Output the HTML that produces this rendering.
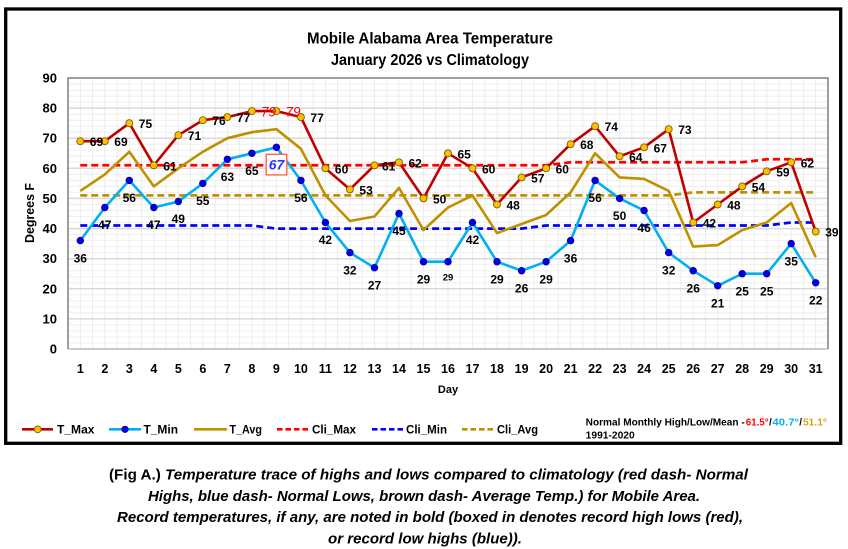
<!DOCTYPE html>
<html><head><meta charset="utf-8"><style>
html,body{margin:0;padding:0;background:#fff;}
svg{display:block;}
text{font-family:"Liberation Sans",Arial,sans-serif;}
</style></head><body>
<svg width="848" height="549" viewBox="0 0 848 549" xmlns="http://www.w3.org/2000/svg">
<rect x="0" y="0" width="848" height="549" fill="#fff"/>
<!-- frame -->
<rect x="5.7" y="9" width="835" height="434.3" fill="#fff" stroke="#000" stroke-width="3.3"/>

<!-- title -->
<text x="307" y="43.5" font-size="16" font-weight="bold" textLength="246" lengthAdjust="spacingAndGlyphs">Mobile Alabama Area Temperature</text>
<text x="331" y="65" font-size="16" font-weight="bold" textLength="198" lengthAdjust="spacingAndGlyphs">January 2026 vs Climatology</text>

<!-- minor horizontal grid -->
<g stroke="#efefef" stroke-width="1">
<path d="M68 84H828M68 90.1H828M68 96.1H828M68 102.1H828M68 114.1H828M68 120.2H828M68 126.2H828M68 132.2H828M68 144.3H828M68 150.3H828M68 156.3H828M68 162.3H828M68 174.4H828M68 180.4H828M68 186.4H828M68 192.4H828M68 204.5H828M68 210.5H828M68 216.5H828M68 222.5H828M68 234.6H828M68 240.6H828M68 246.6H828M68 252.6H828M68 264.7H828M68 270.7H828M68 276.7H828M68 282.7H828M68 294.8H828M68 300.8H828M68 306.8H828M68 312.8H828M68 324.9H828M68 330.9H828M68 336.9H828M68 342.9H828"/>
</g>
<!-- vertical grid (half category) -->
<g stroke="#ececec" stroke-width="1">
<path d="M80.3 78V349M92.5 78V349M104.8 78V349M117 78V349M129.3 78V349M141.5 78V349M153.8 78V349M166 78V349M178.3 78V349M190.5 78V349M202.8 78V349M215.1 78V349M227.4 78V349M239.6 78V349M251.9 78V349M264.1 78V349M276.4 78V349M288.6 78V349M300.9 78V349M313.1 78V349M325.4 78V349M337.6 78V349M349.9 78V349M362.2 78V349M374.5 78V349M386.7 78V349M399 78V349M411.2 78V349M423.5 78V349M435.7 78V349M448 78V349M460.2 78V349M472.5 78V349M484.7 78V349M497 78V349M509.3 78V349M521.6 78V349M533.8 78V349M546.1 78V349M558.3 78V349M570.6 78V349M582.8 78V349M595.1 78V349M607.3 78V349M619.6 78V349M631.8 78V349M644.1 78V349M656.4 78V349M668.7 78V349M680.9 78V349M693.2 78V349M705.4 78V349M717.7 78V349M729.9 78V349M742.2 78V349M754.4 78V349M766.7 78V349M778.9 78V349M791.2 78V349M803.4 78V349M815.7 78V349"/>
</g>
<!-- major horizontal grid -->
<g stroke="#d9d9d9" stroke-width="1.5">
<path d="M68 108.1H828M68 138.2H828M68 168.3H828M68 198.4H828M68 228.6H828M68 258.7H828M68 288.8H828M68 318.9H828M68 349H828"/>
</g>
<!-- plot border -->
<path d="M68 349V78H828V349" fill="none" stroke="#7f7f7f" stroke-width="1.5"/>
<path d="M68 349H828" stroke="#bfbfbf" stroke-width="1.5"/>

<!-- y labels -->
<g font-size="13" font-weight="bold" text-anchor="end" fill="#000">
<text x="57" y="82.5">90</text><text x="57" y="112.6">80</text><text x="57" y="142.7">70</text><text x="57" y="172.8">60</text><text x="57" y="202.9">50</text><text x="57" y="233.1">40</text><text x="57" y="263.2">30</text><text x="57" y="293.3">20</text><text x="57" y="323.4">10</text><text x="57" y="353.5">0</text>
</g>
<!-- x labels -->
<g font-size="12.5" font-weight="bold" text-anchor="middle" fill="#000">
<text x="80.3" y="373">1</text><text x="104.8" y="373">2</text><text x="129.3" y="373">3</text><text x="153.8" y="373">4</text><text x="178.3" y="373">5</text><text x="202.8" y="373">6</text><text x="227.4" y="373">7</text><text x="251.9" y="373">8</text><text x="276.4" y="373">9</text><text x="300.9" y="373">10</text><text x="325.4" y="373">11</text><text x="349.9" y="373">12</text><text x="374.5" y="373">13</text><text x="399" y="373">14</text><text x="423.5" y="373">15</text><text x="448" y="373">16</text><text x="472.5" y="373">17</text><text x="497" y="373">18</text><text x="521.6" y="373">19</text><text x="546.1" y="373">20</text><text x="570.6" y="373">21</text><text x="595.1" y="373">22</text><text x="619.6" y="373">23</text><text x="644.1" y="373">24</text><text x="668.7" y="373">25</text><text x="693.2" y="373">26</text><text x="717.7" y="373">27</text><text x="742.2" y="373">28</text><text x="766.7" y="373">29</text><text x="791.2" y="373">30</text><text x="815.7" y="373">31</text>
</g>
<text x="448" y="393" font-size="11" font-weight="bold" text-anchor="middle">Day</text>
<text transform="translate(34,213) rotate(-90)" font-size="13" font-weight="bold" text-anchor="middle" textLength="60" lengthAdjust="spacingAndGlyphs">Degrees F</text>

<!-- climatology dashes -->
<g fill="none" stroke-width="2.75" stroke-dasharray="7 4">
<polyline stroke="#ff0000" points="80.3,165.3 546.1,165.3 570.6,162.3 742.2,162.3 766.7,159.3 815.7,159.3"/>
<polyline stroke="#0000ff" points="80.3,225.5 251.9,225.5 276.4,228.6 521.6,228.6 546.1,225.5 766.7,225.5 791.2,222.5 815.7,222.5"/>
<polyline stroke="#bf9000" points="80.3,195.4 668.7,195.4 693.2,192.4 815.7,192.4"/>
</g>

<!-- series lines -->
<g fill="none" stroke-width="2.6" stroke-linejoin="round">
<polyline stroke="#bf9000" points="80.3,190.9 104.8,174.4 129.3,151.8 153.8,186.4 178.3,168.3 202.8,151.8 227.4,138.2 251.9,132.2 276.4,129.2 300.9,148.8 325.4,195.4 349.9,221 374.5,216.5 399,187.9 423.5,230.1 448,207.5 472.5,195.4 497,233.1 521.6,224 546.1,215 570.6,192.4 595.1,153.3 619.6,177.4 644.1,178.9 668.7,190.9 693.2,246.6 717.7,245.1 742.2,230.1 766.7,222.5 791.2,203 815.7,257.2"/>
<polyline stroke="#00b0f0" points="80.3,240.6 104.8,207.5 129.3,180.4 153.8,207.5 178.3,201.5 202.8,183.4 227.4,159.3 251.9,153.3 276.4,147.3 300.9,180.4 325.4,222.5 349.9,252.6 374.5,267.7 399,213.5 423.5,261.7 448,261.7 472.5,222.5 497,261.7 521.6,270.7 546.1,261.7 570.6,240.6 595.1,180.4 619.6,198.4 644.1,210.5 668.7,252.6 693.2,270.7 717.7,285.8 742.2,273.7 766.7,273.7 791.2,243.6 815.7,282.8"/>
<polyline stroke="#c00000" points="80.3,141.2 104.8,141.2 129.3,123.2 153.8,165.3 178.3,135.2 202.8,120.2 227.4,117.1 251.9,111.1 276.4,111.1 300.9,117.1 325.4,168.3 349.9,189.4 374.5,165.3 399,162.3 423.5,198.4 448,153.3 472.5,168.3 497,204.5 521.6,177.4 546.1,168.3 570.6,144.2 595.1,126.2 619.6,156.3 644.1,147.3 668.7,129.2 693.2,222.5 717.7,204.5 742.2,186.4 766.7,171.3 791.2,162.3 815.7,231.6"/>
</g>

<!-- T_Min markers -->
<g fill="#0000e6" stroke="#00008b" stroke-width="0.6">
<circle cx="80.3" cy="240.6" r="3.4"/><circle cx="104.8" cy="207.5" r="3.4"/><circle cx="129.3" cy="180.4" r="3.4"/><circle cx="153.8" cy="207.5" r="3.4"/><circle cx="178.3" cy="201.5" r="3.4"/><circle cx="202.8" cy="183.4" r="3.4"/><circle cx="227.4" cy="159.3" r="3.4"/><circle cx="251.9" cy="153.3" r="3.4"/><circle cx="276.4" cy="147.3" r="3.4"/><circle cx="300.9" cy="180.4" r="3.4"/><circle cx="325.4" cy="222.5" r="3.4"/><circle cx="349.9" cy="252.6" r="3.4"/><circle cx="374.5" cy="267.7" r="3.4"/><circle cx="399" cy="213.5" r="3.4"/><circle cx="423.5" cy="261.7" r="3.4"/><circle cx="448" cy="261.7" r="3.4"/><circle cx="472.5" cy="222.5" r="3.4"/><circle cx="497" cy="261.7" r="3.4"/><circle cx="521.6" cy="270.7" r="3.4"/><circle cx="546.1" cy="261.7" r="3.4"/><circle cx="570.6" cy="240.6" r="3.4"/><circle cx="595.1" cy="180.4" r="3.4"/><circle cx="619.6" cy="198.4" r="3.4"/><circle cx="644.1" cy="210.5" r="3.4"/><circle cx="668.7" cy="252.6" r="3.4"/><circle cx="693.2" cy="270.7" r="3.4"/><circle cx="717.7" cy="285.8" r="3.4"/><circle cx="742.2" cy="273.7" r="3.4"/><circle cx="766.7" cy="273.7" r="3.4"/><circle cx="791.2" cy="243.6" r="3.4"/><circle cx="815.7" cy="282.8" r="3.4"/>
</g>
<!-- T_Max markers -->
<g fill="#ffc000" stroke="#7f6000" stroke-width="0.9">
<circle cx="80.3" cy="141.2" r="3.5"/><circle cx="104.8" cy="141.2" r="3.5"/><circle cx="129.3" cy="123.2" r="3.5"/><circle cx="153.8" cy="165.3" r="3.5"/><circle cx="178.3" cy="135.2" r="3.5"/><circle cx="202.8" cy="120.2" r="3.5"/><circle cx="227.4" cy="117.1" r="3.5"/><circle cx="251.9" cy="111.1" r="3.5"/><circle cx="276.4" cy="111.1" r="3.5"/><circle cx="300.9" cy="117.1" r="3.5"/><circle cx="325.4" cy="168.3" r="3.5"/><circle cx="349.9" cy="189.4" r="3.5"/><circle cx="374.5" cy="165.3" r="3.5"/><circle cx="399" cy="162.3" r="3.5"/><circle cx="423.5" cy="198.4" r="3.5"/><circle cx="448" cy="153.3" r="3.5"/><circle cx="472.5" cy="168.3" r="3.5"/><circle cx="497" cy="204.5" r="3.5"/><circle cx="521.6" cy="177.4" r="3.5"/><circle cx="546.1" cy="168.3" r="3.5"/><circle cx="570.6" cy="144.2" r="3.5"/><circle cx="595.1" cy="126.2" r="3.5"/><circle cx="619.6" cy="156.3" r="3.5"/><circle cx="644.1" cy="147.3" r="3.5"/><circle cx="668.7" cy="129.2" r="3.5"/><circle cx="693.2" cy="222.5" r="3.5"/><circle cx="717.7" cy="204.5" r="3.5"/><circle cx="742.2" cy="186.4" r="3.5"/><circle cx="766.7" cy="171.3" r="3.5"/><circle cx="791.2" cy="162.3" r="3.5"/><circle cx="815.7" cy="231.6" r="3.5"/>
</g>

<!-- T_Max labels -->
<g font-size="12" font-weight="bold" fill="#000">
<text x="89.8" y="146.2">69</text><text x="114.3" y="146.2">69</text><text x="138.8" y="128.2">75</text><text x="163.3" y="170.3">61</text><text x="187.8" y="140.2">71</text><text x="212.3" y="125.2">76</text><text x="236.9" y="122.1">77</text><text x="310.4" y="122.1">77</text><text x="334.9" y="173.3">60</text><text x="359.4" y="194.4">53</text><text x="382" y="170.3">61</text><text x="408.5" y="167.3">62</text><text x="433" y="203.4">50</text><text x="457.5" y="158.3">65</text><text x="482" y="173.3">60</text><text x="506.5" y="209.5">48</text><text x="531.1" y="182.4">57</text><text x="555.6" y="173.3">60</text><text x="580.1" y="149.2">68</text><text x="604.6" y="131.2">74</text><text x="629.1" y="161.3">64</text><text x="653.6" y="152.3">67</text><text x="678.2" y="134.2">73</text><text x="702.7" y="227.5">42</text><text x="727.2" y="209.5">48</text><text x="751.7" y="191.4">54</text><text x="776.2" y="176.3">59</text><text x="800.7" y="167.3">62</text><text x="825.2" y="236.6">39</text>
</g>
<g font-size="13.5" font-style="italic" fill="#ff0000">
<text x="261" y="116.3">79</text><text x="285.5" y="116.3">79</text>
</g>

<!-- T_Min labels -->
<g font-size="12" font-weight="bold" fill="#000" text-anchor="middle">
<text x="80.3" y="262.3">36</text><text x="104.8" y="229.2">47</text><text x="129.3" y="202.1">56</text><text x="153.8" y="229.2">47</text><text x="178.3" y="223.2">49</text><text x="202.8" y="205.1">55</text><text x="227.4" y="181">63</text><text x="251.9" y="175">65</text><text x="300.9" y="202.1">56</text><text x="325.4" y="244.2">42</text><text x="349.9" y="274.3">32</text><text x="374.5" y="289.4">27</text><text x="399" y="235.2">45</text><text x="423.5" y="283.4">29</text><text x="472.5" y="244.2">42</text><text x="497" y="283.4">29</text><text x="521.6" y="292.4">26</text><text x="546.1" y="283.4">29</text><text x="570.6" y="262.3">36</text><text x="595.1" y="202.1">56</text><text x="619.6" y="220.1">50</text><text x="644.1" y="232.2">46</text><text x="668.7" y="274.3">32</text><text x="693.2" y="292.4">26</text><text x="717.7" y="307.5">21</text><text x="742.2" y="295.4">25</text><text x="766.7" y="295.4">25</text><text x="791.2" y="265.3">35</text><text x="815.7" y="304.5">22</text>
<text x="448" y="280.6" font-size="9.5">29</text>
</g>
<!-- boxed record -->
<rect x="266.2" y="154.3" width="20.6" height="20.6" fill="#fff" stroke="#ff5a36" stroke-width="1.3"/>
<text x="276.5" y="169.6" font-size="14" font-weight="bold" font-style="italic" fill="#3333ff" text-anchor="middle">67</text>

<!-- legend -->
<g stroke-width="2.6">
<line x1="22" y1="429.3" x2="53" y2="429.3" stroke="#c00000"/>
<line x1="109" y1="429.3" x2="141" y2="429.3" stroke="#00b0f0"/>
<line x1="194" y1="429.3" x2="227" y2="429.3" stroke="#bf9000"/>
</g>
<g stroke-width="2.6" stroke-dasharray="5.5 3">
<line x1="277" y1="429.3" x2="310" y2="429.3" stroke="#ff0000"/>
<line x1="372" y1="429.3" x2="404" y2="429.3" stroke="#0000ff"/>
<line x1="462" y1="429.3" x2="495" y2="429.3" stroke="#bf9000"/>
</g>
<circle cx="37.7" cy="429.3" r="3.4" fill="#ffc000" stroke="#7f6000" stroke-width="0.9"/>
<circle cx="125" cy="429.3" r="3.3" fill="#0000e6" stroke="#00008b" stroke-width="0.6"/>
<g font-size="12" font-weight="bold" fill="#000">
<text x="57" y="433.6" textLength="37.5" lengthAdjust="spacingAndGlyphs">T_Max</text>
<text x="143.5" y="433.6" textLength="34.5" lengthAdjust="spacingAndGlyphs">T_Min</text>
<text x="229.5" y="433.6" textLength="32.5" lengthAdjust="spacingAndGlyphs">T_Avg</text>
<text x="312" y="433.6" textLength="44" lengthAdjust="spacingAndGlyphs">Cli_Max</text>
<text x="406" y="433.6" textLength="41" lengthAdjust="spacingAndGlyphs">Cli_Min</text>
<text x="497" y="433.6" textLength="41" lengthAdjust="spacingAndGlyphs">Cli_Avg</text>
</g>
<g font-size="10" font-weight="bold">
<text x="585.7" y="425.3" textLength="159" lengthAdjust="spacingAndGlyphs">Normal Monthly High/Low/Mean - </text>
<text x="745.7" y="425.3" fill="#ff0000" textLength="23" lengthAdjust="spacingAndGlyphs">61.5°</text>
<text x="769" y="425.3">/</text>
<text x="772.5" y="425.3" fill="#00b0f0" textLength="26.5" lengthAdjust="spacingAndGlyphs">40.7°</text>
<text x="799.3" y="425.3">/</text>
<text x="803" y="425.3" fill="#d4a514" textLength="24" lengthAdjust="spacingAndGlyphs">51.1°</text>
<text x="585.7" y="438.7" textLength="49" lengthAdjust="spacingAndGlyphs">1991-2020</text>
</g>

<!-- caption -->
<g font-size="15" font-weight="bold" fill="#000">
<text x="109" y="479.5" textLength="639" lengthAdjust="spacingAndGlyphs"><tspan>(Fig A.) </tspan><tspan font-style="italic">Temperature trace of highs and lows compared to climatology (red dash- Normal</tspan></text>
<text x="148" y="500.8" font-style="italic" textLength="552" lengthAdjust="spacingAndGlyphs">Highs, blue dash- Normal Lows, brown dash- Average Temp.) for Mobile Area.</text>
<text x="117" y="522.1" font-style="italic" textLength="626" lengthAdjust="spacingAndGlyphs">Record temperatures, if any, are noted in bold (boxed in denotes record high lows (red),</text>
<text x="328" y="543.4" font-style="italic" textLength="194" lengthAdjust="spacingAndGlyphs">or record low highs (blue)).</text>
</g>
</svg>
</body></html>
